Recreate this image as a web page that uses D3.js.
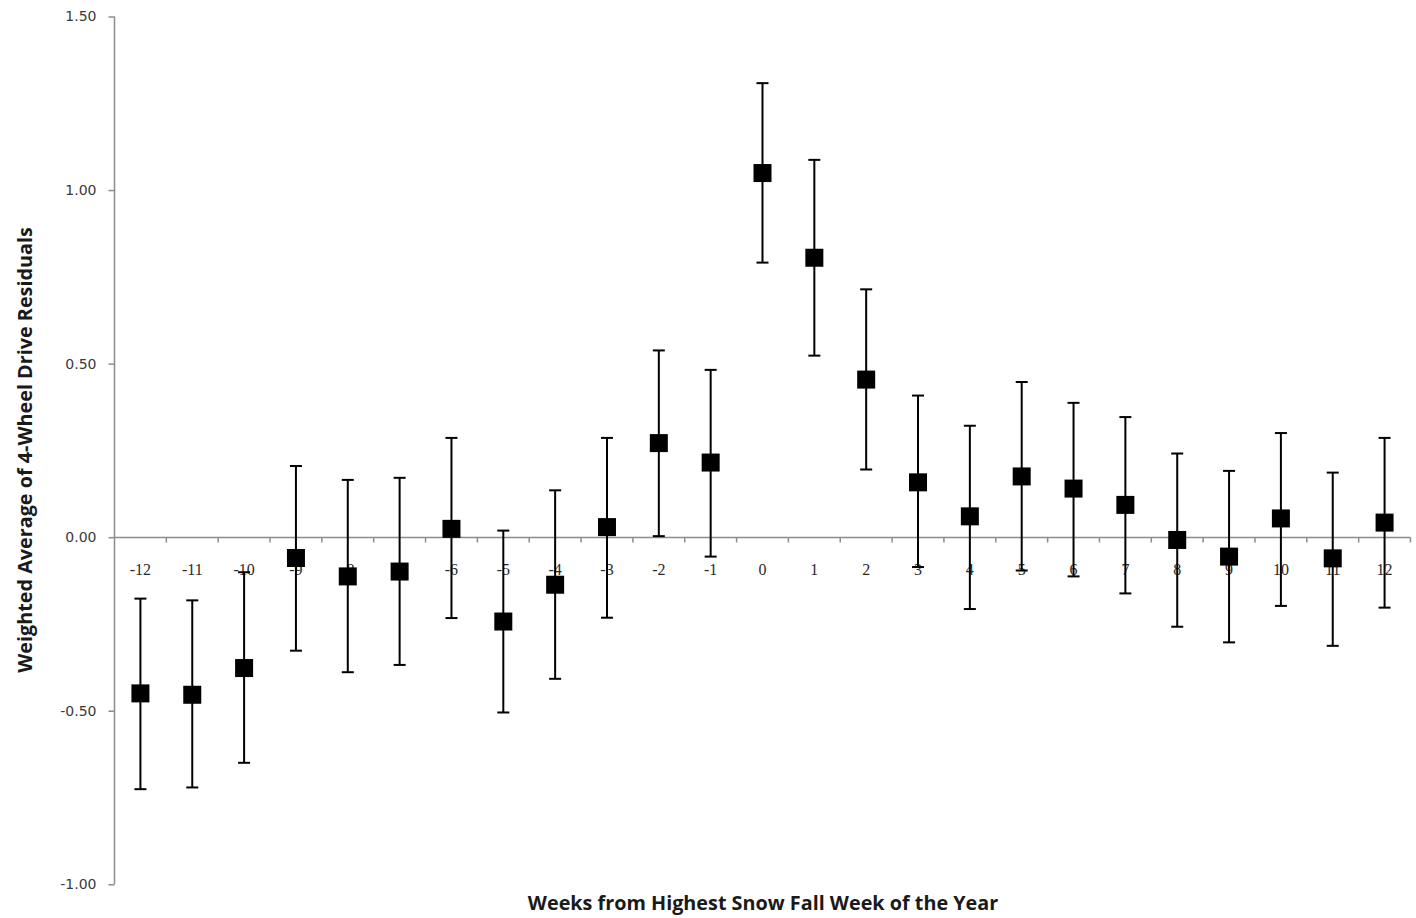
<!DOCTYPE html>
<html>
<head>
<meta charset="utf-8">
<script src="https://cdn.jsdelivr.net/npm/d3@7"></script>
<style>
  html, body { margin: 0; padding: 0; background: #fff; }
  svg { display: block; }
</style>
</head>
<body>
<svg id="chart" width="1416" height="918"></svg>
<script>
// Weeks relative to the highest snow fall week of the year
const weeks = [-12, -11, -10, -9, -8, -7, -6, -5, -4, -3, -2, -1, 0, 1, 2, 3, 4, 5, 6, 7, 8, 9, 10, 11, 12];

// Weighted average of 4-wheel drive residuals (point estimate)
const estimate = [-0.450, -0.454, -0.377, -0.060, -0.113, -0.099, 0.024, -0.243, -0.137, 0.029, 0.271, 0.215,
                  1.049, 0.805, 0.454, 0.158, 0.060, 0.175, 0.140, 0.093, -0.008, -0.056, 0.054, -0.061, 0.042];

// Upper and lower bounds of the confidence interval
const upper = [-0.177, -0.182, -0.101, 0.205, 0.165, 0.171, 0.286, 0.019, 0.135, 0.286, 0.538, 0.482,
               1.308, 1.087, 0.714, 0.408, 0.321, 0.447, 0.387, 0.346, 0.241, 0.191, 0.300, 0.186, 0.286];
const lower = [-0.726, -0.721, -0.650, -0.327, -0.389, -0.368, -0.233, -0.505, -0.408, -0.232, 0.003, -0.056,
               0.791, 0.523, 0.195, -0.086, -0.207, -0.096, -0.113, -0.162, -0.258, -0.303, -0.198, -0.313, -0.203];

// Y-axis tick values and their labels
const yTicks = [-1.0, -0.5, 0.0, 0.5, 1.0, 1.5];
const yTickLabels = ["-1.00", "-0.50", "0.00", "0.50", "1.00", "1.50"];

const xTitle = "Weeks from Highest Snow Fall Week of the Year";
const yTitle = "Weighted Average of 4-Wheel Drive Residuals";

const rows = weeks.map((w, i) => ({ week: w, est: estimate[i], hi: upper[i], lo: lower[i] }));

const svg = d3.select("#chart");
const plot = { left: 114.5, right: 1410.5, top: 16.5, bottom: 884.3 };

const x = d3.scaleBand()
  .domain(weeks)
  .range([plot.left, plot.right])
  .paddingInner(0).paddingOuter(0);

const y = d3.scaleLinear()
  .domain([-1.0, 1.5])
  .range([plot.bottom, plot.top]);

const axisColor = "#8c8c8c";

// Vertical value axis
const yAxis = svg.append("g")
  .attr("transform", `translate(${plot.left},0)`)
  .call(d3.axisLeft(y)
    .tickValues(yTicks)
    .tickFormat((d, i) => yTickLabels[i])
    .tickSize(6)
    .tickPadding(12));
yAxis.select(".domain").attr("stroke", axisColor).attr("stroke-width", 1.5)
  .attr("d", `M0,${plot.top}V${plot.bottom}`);
yAxis.selectAll(".tick line").attr("stroke", axisColor).attr("stroke-width", 1.5);
yAxis.selectAll(".tick text")
  .attr("fill", "#3a3a3a")
  .style("font-family", "'DejaVu Sans', Verdana, sans-serif")
  .style("font-size", "14px");

// Horizontal category axis crossing at zero, ticks between categories
const y0 = Math.round(y(0)) + 0.5;
const xAxis = svg.append("g").attr("transform", `translate(0,${y0})`);
xAxis.append("line")
  .attr("x1", plot.left).attr("x2", plot.right)
  .attr("y1", 0).attr("y2", 0)
  .attr("stroke", axisColor).attr("stroke-width", 1.5);
const boundaries = weeks.map(w => x(w)).concat([x(weeks[weeks.length - 1]) + x.bandwidth()]);
xAxis.selectAll("line.tick")
  .data(boundaries.slice(1))
  .join("line")
  .attr("class", "tick")
  .attr("x1", d => d).attr("x2", d => d)
  .attr("y1", 0).attr("y2", 5)
  .attr("stroke", axisColor).attr("stroke-width", 1.5);
xAxis.selectAll("text")
  .data(weeks)
  .join("text")
  .attr("x", d => x(d) + x.bandwidth() / 2)
  .attr("y", 37)
  .attr("text-anchor", "middle")
  .attr("fill", "#2a2a2a")
  .style("font-family", "'Liberation Serif', 'Times New Roman', serif")
  .style("font-size", "16px")
  .text(d => d);

// Error bars with caps
const cx = d => x(d.week) + x.bandwidth() / 2;
const bars = svg.append("g").attr("stroke", "#000").attr("stroke-width", 2);
bars.selectAll("line.stem")
  .data(rows).join("line")
  .attr("class", "stem")
  .attr("x1", cx).attr("x2", cx)
  .attr("y1", d => y(d.hi)).attr("y2", d => y(d.lo));
bars.selectAll("line.cap-hi")
  .data(rows).join("line")
  .attr("class", "cap-hi")
  .attr("x1", d => cx(d) - 6).attr("x2", d => cx(d) + 6)
  .attr("y1", d => y(d.hi)).attr("y2", d => y(d.hi));
bars.selectAll("line.cap-lo")
  .data(rows).join("line")
  .attr("class", "cap-lo")
  .attr("x1", d => cx(d) - 6).attr("x2", d => cx(d) + 6)
  .attr("y1", d => y(d.lo)).attr("y2", d => y(d.lo));

// Square markers for the point estimates
const size = 18;
svg.append("g").selectAll("rect")
  .data(rows).join("rect")
  .attr("x", d => cx(d) - size / 2)
  .attr("y", d => y(d.est) - size / 2)
  .attr("width", size).attr("height", size)
  .attr("fill", "#000");

// Axis titles
svg.append("text")
  .attr("x", 763).attr("y", 910)
  .attr("text-anchor", "middle")
  .attr("fill", "#1a1a1a")
  .style("font-family", "'Open Sans', 'Liberation Sans', sans-serif")
  .style("font-weight", "bold")
  .style("font-size", "19.8px")
  .text(xTitle);

svg.append("text")
  .attr("transform", "translate(32,450) rotate(-90)")
  .attr("text-anchor", "middle")
  .attr("fill", "#1a1a1a")
  .style("font-family", "'Open Sans', 'Liberation Sans', sans-serif")
  .style("font-weight", "bold")
  .style("font-size", "19.8px")
  .text(yTitle);
</script>
</body>
</html>
